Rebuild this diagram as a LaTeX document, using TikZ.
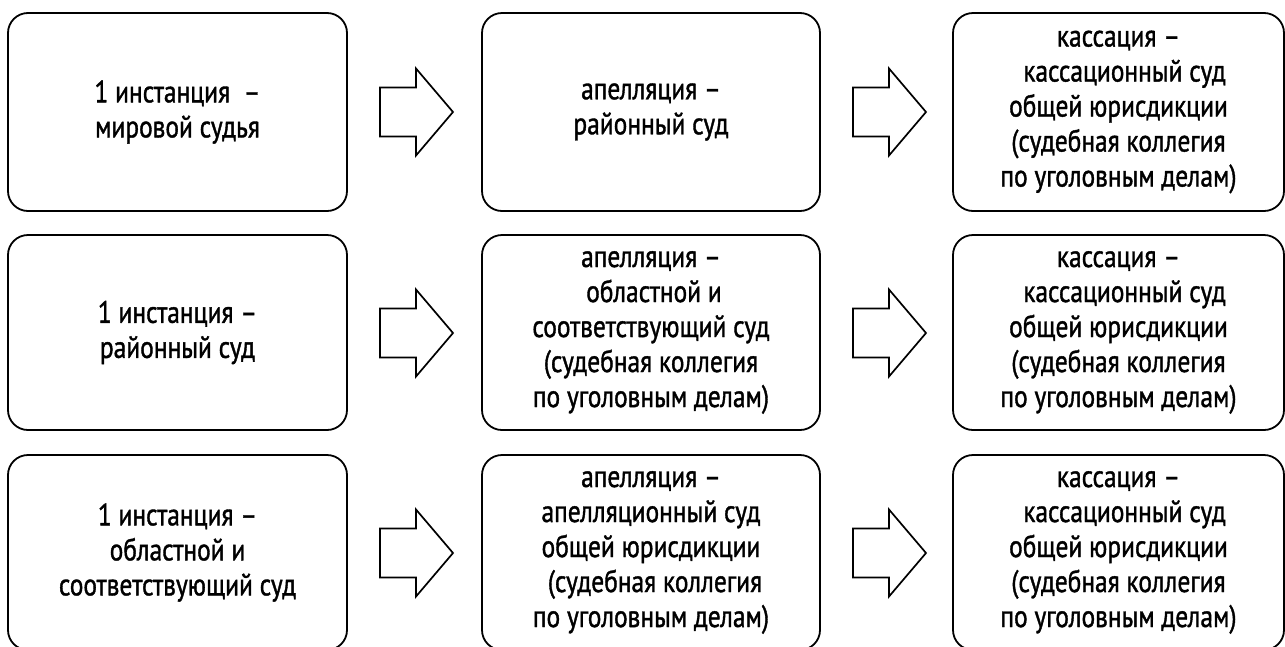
\documentclass[tikz,border=0pt]{standalone}
\usepackage{fontspec}
\setmainfont{PT Sans}[FakeStretch=0.82,FakeBold=1.2]
\begin{document}
\begin{tikzpicture}[x=1pt,y=-1pt,
  court/.style={draw, line width=1.8pt, rounded corners=20pt, inner sep=0pt,
    align=center, font=\fontsize{31}{35}\selectfont},
  blockarrow/.style={draw, line width=1.7pt, fill=white, line join=miter}
]
\useasboundingbox (0,0) rectangle (1285,646);
% boxes
\newcommand\courtbox[6]{%
  \node[court, minimum width=#4, minimum height=#5] (#1) at (#2,#3) {#6};}
\courtbox{a1}{177.5}{112}{339}{198}{1 инстанция \ –\\мировой судья}
\courtbox{b1}{651}{112}{338}{198}{апелляция –\\районный суд}
\courtbox{c1}{1118.5}{112}{331}{198}{кассация –\\\hspace{12pt}кассационный суд\\общей юрисдикции\\(судебная коллегия\\по уголовным делам)}
\courtbox{a2}{177.5}{332.5}{339}{195}{1 инстанция –\\районный суд}
\courtbox{b2}{651}{332.5}{338}{195}{апелляция –\\\hspace{6pt}областной и\\соответствующий суд\\(судебная коллегия\\по уголовным делам)}
\courtbox{c2}{1118.5}{332.5}{331}{195}{кассация –\\\hspace{12pt}кассационный суд\\общей юрисдикции\\(судебная коллегия\\по уголовным делам)}
\courtbox{a3}{177.5}{552.5}{339}{195}{1 инстанция –\\областной и\\соответствующий суд}
\courtbox{b3}{651}{552.5}{338}{195}{апелляция –\\апелляционный суд\\общей юрисдикции\\\hspace{8pt}(судебная коллегия\\по уголовным делам)}
\courtbox{c3}{1118.5}{552.5}{331}{195}{кассация –\\\hspace{12pt}кассационный суд\\общей юрисдикции\\(судебная коллегия\\по уголовным делам)}
% block arrows
\newcommand\blockarr[2]{%
  \draw[blockarrow, shift={(#1,#2)}] (0,-24.5) -- (36,-24.5) -- (36,-43.5) -- (73,0)
    -- (36,43.5) -- (36,24.5) -- (0,24.5) -- cycle;}
\blockarr{380}{112}
\blockarr{853}{112}
\blockarr{380}{333}
\blockarr{853}{333}
\blockarr{380}{553}
\blockarr{853}{553}
\end{tikzpicture}
\end{document}
